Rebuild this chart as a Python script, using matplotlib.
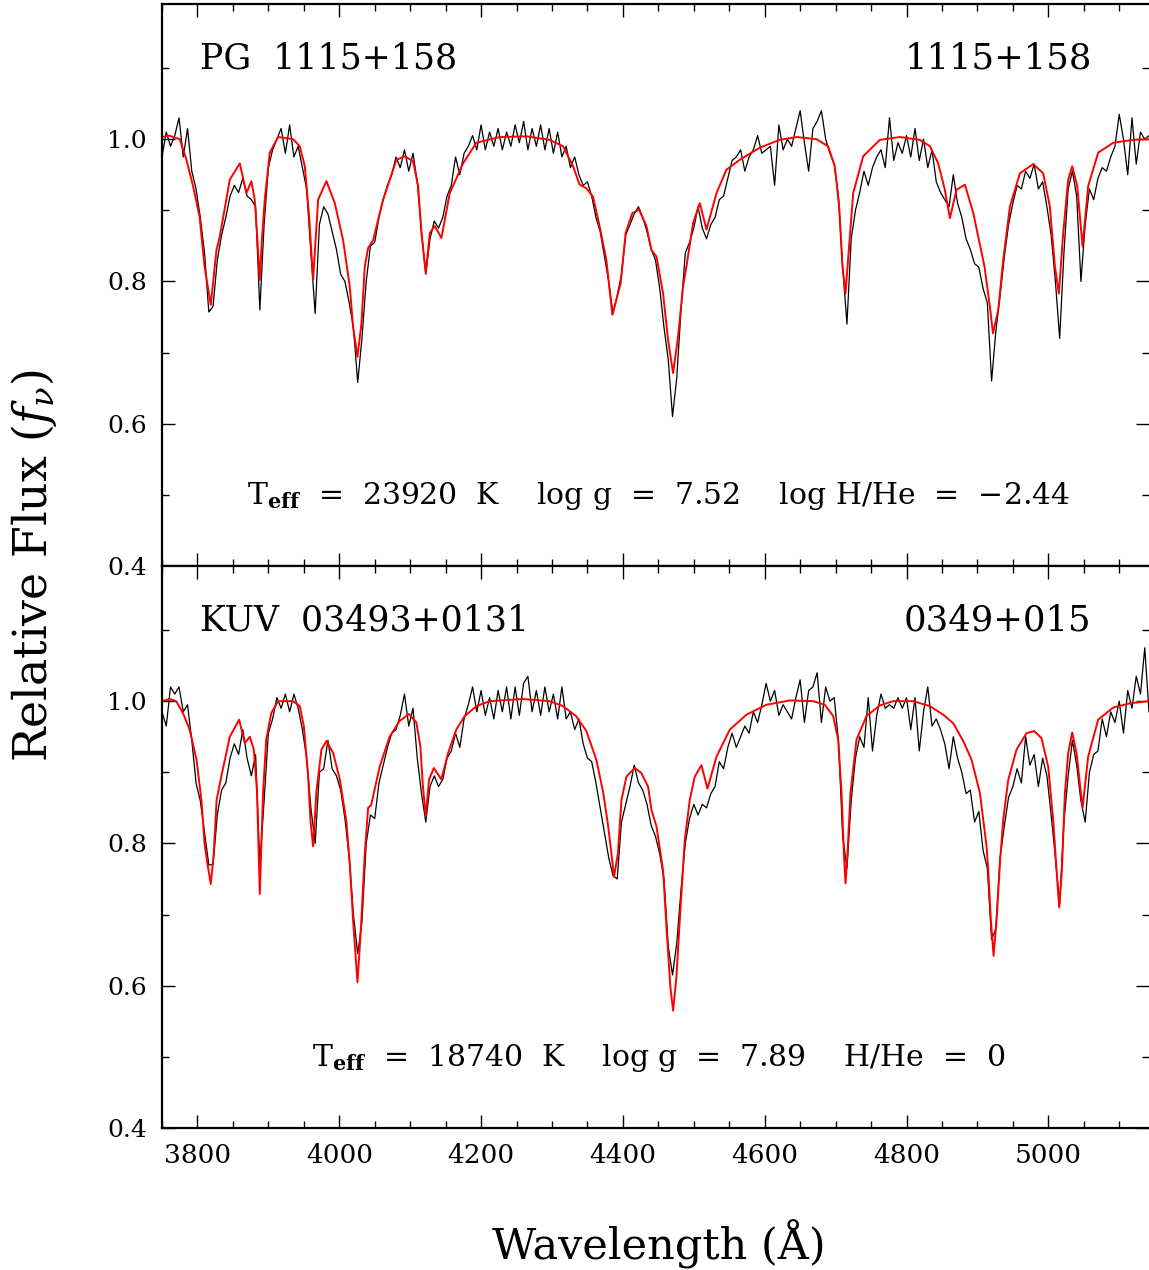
import numpy as np
import matplotlib
matplotlib.use("Agg")
import matplotlib.pyplot as plt
from matplotlib.ticker import MultipleLocator, FormatStrFormatter

plt.rcParams['font.family'] = 'DejaVu Serif'
plt.rcParams['mathtext.fontset'] = 'dejavuserif'

# observed spectra are sampled on a 6 A grid
wave_obs = np.arange(3750, 5143, 6)

flux_obs_top = [
    0.975, 1.01, 0.99, 1.005, 1.03, 0.975, 1.015, 0.955, 0.93, 0.89,
    0.84, 0.757, 0.765, 0.83, 0.865, 0.89, 0.92, 0.935, 0.925, 0.945,
    0.92, 0.915, 0.905, 0.76, 0.88, 0.96, 0.985, 1.00, 1.015, 0.98,
    1.02, 0.975, 0.99, 0.96, 0.93, 0.84, 0.755, 0.88, 0.905, 0.895,
    0.87, 0.845, 0.81, 0.80, 0.77, 0.735, 0.658, 0.72, 0.80, 0.85,
    0.855, 0.89, 0.915, 0.935, 0.95, 0.975, 0.96, 0.985, 0.955, 0.98,
    0.94, 0.87, 0.81, 0.86, 0.885, 0.875, 0.89, 0.92, 0.935, 0.975,
    0.95, 0.98, 0.99, 1.005, 0.985, 1.02, 0.985, 1.01, 0.99, 1.015,
    0.985, 1.01, 0.99, 1.02, 0.995, 1.025, 0.985, 1.015, 0.99, 1.02,
    0.985, 1.015, 0.98, 1.01, 0.975, 0.99, 0.96, 0.975, 0.95, 0.935,
    0.94, 0.92, 0.89, 0.87, 0.835, 0.80, 0.755, 0.78, 0.81, 0.865,
    0.88, 0.895, 0.905, 0.89, 0.87, 0.845, 0.83, 0.79, 0.735, 0.69,
    0.61, 0.665, 0.76, 0.84, 0.855, 0.875, 0.905, 0.875, 0.86, 0.88,
    0.89, 0.915, 0.92, 0.945, 0.97, 0.975, 0.985, 0.955, 0.975, 0.985,
    1.005, 0.98, 0.985, 0.99, 0.935, 1.02, 0.985, 1.00, 0.99, 1.015,
    1.04, 0.995, 0.955, 1.015, 1.025, 1.04, 1.00, 0.98, 0.965, 0.92,
    0.82, 0.74, 0.86, 0.90, 0.925, 0.955, 0.935, 0.96, 0.975, 0.985,
    0.96, 1.03, 0.97, 0.995, 0.98, 1.005, 0.975, 1.015, 0.97, 1.0,
    0.96, 0.985, 0.94, 0.925, 0.915, 0.905, 0.95, 0.91, 0.89, 0.86,
    0.845, 0.825, 0.82, 0.79, 0.77, 0.66, 0.73, 0.78, 0.835, 0.88,
    0.91, 0.935, 0.93, 0.955, 0.945, 0.965, 0.93, 0.94, 0.905, 0.865,
    0.80, 0.72, 0.84, 0.93, 0.955, 0.92, 0.80, 0.88, 0.93, 0.915,
    0.945, 0.96, 0.955, 0.975, 0.99, 1.035, 1.0, 0.95, 1.03, 0.965,
    1.01, 1.0, 1.005,
]

flux_obs_bot = [
    0.985, 0.965, 1.02, 1.01, 1.02, 0.985, 0.995, 0.945, 0.885, 0.86,
    0.815, 0.77, 0.77, 0.84, 0.875, 0.885, 0.92, 0.94, 0.925, 0.96,
    0.92, 0.895, 0.925, 0.77, 0.86, 0.955, 0.975, 1.005, 0.99, 1.01,
    0.985, 1.01, 0.99, 0.96, 0.92, 0.85, 0.80, 0.90, 0.905, 0.945,
    0.905, 0.895, 0.875, 0.835, 0.78, 0.70, 0.645, 0.69, 0.80, 0.84,
    0.835, 0.885, 0.91, 0.935, 0.955, 0.96, 0.98, 1.01, 0.965, 0.99,
    0.92, 0.87, 0.83, 0.88, 0.895, 0.88, 0.89, 0.92, 0.93, 0.955,
    0.935, 0.975, 0.995, 1.02, 0.985, 1.015, 0.98, 1.005, 0.975, 1.015,
    0.985, 1.02, 0.975, 1.02, 0.98, 1.025, 1.035, 0.985, 1.015, 0.98,
    1.02, 0.985, 1.01, 0.975, 1.02, 0.975, 0.985, 0.96, 0.975, 0.94,
    0.92, 0.915, 0.885, 0.85, 0.815, 0.78, 0.755, 0.75, 0.83, 0.855,
    0.88, 0.91, 0.885, 0.875, 0.855, 0.825, 0.81, 0.785, 0.75, 0.655,
    0.615, 0.66, 0.735, 0.80, 0.835, 0.855, 0.84, 0.855, 0.85, 0.87,
    0.88, 0.915, 0.905, 0.935, 0.955, 0.935, 0.95, 0.965, 0.955, 0.985,
    0.97, 0.995, 1.025, 1.0, 1.015, 0.98, 0.995, 0.985, 0.975, 1.005,
    1.03, 0.97, 1.015, 1.02, 1.04, 0.97, 1.02, 1.0, 1.005, 0.945,
    0.81, 0.765, 0.86, 0.92, 0.95, 0.935, 1.005, 0.93, 0.98, 1.01,
    0.99, 0.995, 0.99, 1.005, 0.99, 1.005, 0.96, 1.005, 0.93, 0.985,
    1.02, 0.965, 0.975, 0.96, 0.94, 0.905, 0.95, 0.92, 0.90, 0.87,
    0.875, 0.83, 0.845, 0.79, 0.765, 0.665, 0.68, 0.78, 0.825, 0.865,
    0.88, 0.905, 0.885, 0.95, 0.91, 0.925, 0.88, 0.92, 0.895, 0.84,
    0.78, 0.715, 0.83, 0.895, 0.945, 0.91, 0.86, 0.83, 0.90, 0.925,
    0.93, 0.975, 0.95, 0.985, 0.97, 1.0, 0.955, 1.015, 0.99, 1.035,
    1.01, 1.075, 0.985,
]

# model fits (red), read at irregular wavelengths
wave_mod_top = [
    3750, 3760, 3775, 3784.5, 3793.8, 3803, 3810, 3818.8, 3826.8, 3831.5,
    3845.6, 3859.7, 3869, 3876, 3880.8, 3884.5, 3887.8, 3891, 3894.9, 3902,
    3913.7, 3934.9, 3944.3, 3951.4, 3957.5, 3963.1, 3970.2, 3981.9, 3993.7, 4005.4,
    4014.8, 4019.5, 4025.7, 4031.3, 4036, 4040.7, 4047.7, 4061.8, 4080.6, 4092.4,
    4104.1, 4111.2, 4115.9, 4122, 4127.7, 4134.7, 4144.1, 4155.8, 4174.6, 4193.4,
    4226.3, 4264, 4296.8, 4315.6, 4329.7, 4339, 4348.5, 4357.9, 4367.3, 4376.7,
    4385.2, 4396.8, 4403.9, 4413.3, 4422.7, 4433.2, 4440.3, 4447.4, 4456.7, 4463.7,
    4470.8, 4477.8, 4484.9, 4489.6, 4499, 4508.5, 4517.9, 4532, 4546, 4564.9,
    4593, 4621, 4645, 4673, 4689.4, 4698.9, 4705, 4709.7, 4714, 4718.6,
    4724.8, 4738.9, 4762.4, 4790.6, 4818.8, 4833, 4844.7, 4854, 4861.2, 4870.6,
    4882.4, 4894.2, 4910, 4917.5, 4922, 4929.3, 4936.4, 4945.8, 4959.9, 4978.7,
    4992.8, 5002.2, 5009.3, 5014.9, 5021, 5028, 5033.7, 5040.8, 5048.3, 5056.2,
    5070.3, 5091.5, 5119.7, 5142,
]
flux_mod_top = [
    1.003, 1.005, 1.000, 0.971, 0.934, 0.891, 0.821, 0.767, 0.844, 0.863,
    0.943, 0.966, 0.924, 0.941, 0.915, 0.860, 0.802, 0.860, 0.915, 0.981,
    1.003, 1.000, 0.990, 0.962, 0.891, 0.803, 0.915, 0.941, 0.910, 0.858,
    0.793, 0.736, 0.694, 0.741, 0.821, 0.847, 0.858, 0.915, 0.971, 0.976,
    0.969, 0.934, 0.868, 0.812, 0.868, 0.878, 0.861, 0.924, 0.966, 0.995,
    1.003, 1.004, 0.999, 0.990, 0.962, 0.936, 0.931, 0.919, 0.877, 0.830,
    0.753, 0.797, 0.868, 0.896, 0.901, 0.878, 0.844, 0.835, 0.783, 0.718,
    0.671, 0.722, 0.793, 0.821, 0.882, 0.910, 0.873, 0.924, 0.957, 0.971,
    0.988, 0.999, 1.003, 1.000, 0.990, 0.962, 0.905, 0.821, 0.783, 0.844,
    0.924, 0.976, 0.999, 1.003, 0.999, 0.990, 0.966, 0.929, 0.889, 0.929,
    0.936, 0.896, 0.821, 0.765, 0.727, 0.760, 0.830, 0.905, 0.952, 0.965,
    0.952, 0.905, 0.821, 0.783, 0.868, 0.943, 0.962, 0.934, 0.849, 0.934,
    0.981, 0.995, 0.999, 1.000,
]

wave_mod_bot = [
    3750, 3760.6, 3770, 3779.7, 3789, 3798.6, 3805.6, 3810, 3814, 3818.8,
    3823, 3827, 3834, 3845.6, 3858.8, 3866.8, 3873.8, 3879.5, 3884, 3887.9,
    3892.6, 3897, 3904, 3913.7, 3934.9, 3944.3, 3950, 3956, 3959.5, 3963.1,
    3967.8, 3974.9, 3982, 3991.4, 4000.8, 4010, 4014.8, 4019.5, 4025.7, 4030.4,
    4036, 4040.7, 4045, 4057, 4071, 4085, 4098.3, 4108.7, 4114.3, 4118,
    4122, 4126.7, 4133.3, 4144, 4153.5, 4165, 4176.9, 4193.4, 4212, 4259,
    4296.8, 4315.6, 4334, 4348.5, 4362.5, 4372, 4379, 4383.8, 4387.5, 4393,
    4398, 4405, 4416.8, 4426, 4435.5, 4440.3, 4447.4, 4456.7, 4462.3, 4467,
    4470.8, 4475.5, 4480.2, 4487.3, 4494.3, 4501.4, 4510.8, 4519.3, 4532, 4550.8,
    4574.3, 4602.5, 4635.4, 4668.4, 4684.8, 4696.6, 4703.6, 4708.4, 4711.7, 4714,
    4716.8, 4721, 4729.5, 4743.6, 4762.4, 4781.2, 4809.4, 4833, 4851.8, 4865.9,
    4880, 4891.7, 4903.5, 4912.9, 4915.3, 4919, 4922.8, 4927, 4931.7, 4936.4,
    4943.4, 4955.2, 4969.3, 4980.1, 4990.4, 4999.8, 5006.9, 5011.6, 5015.4, 5019.1,
    5023.4, 5028, 5033.7, 5039.8, 5048.3, 5056.2, 5070.3, 5091.5, 5115, 5142,
]
flux_mod_bot = [
    1.000, 1.003, 1.000, 0.983, 0.960, 0.918, 0.861, 0.800, 0.772, 0.743,
    0.786, 0.861, 0.896, 0.950, 0.974, 0.941, 0.950, 0.932, 0.873, 0.729,
    0.873, 0.946, 0.983, 1.000, 1.000, 0.993, 0.965, 0.896, 0.831, 0.796,
    0.873, 0.932, 0.944, 0.927, 0.890, 0.831, 0.772, 0.692, 0.605, 0.678,
    0.786, 0.850, 0.854, 0.908, 0.950, 0.972, 0.982, 0.970, 0.937, 0.880,
    0.838, 0.890, 0.906, 0.890, 0.927, 0.960, 0.979, 0.993, 1.000, 1.003,
    1.000, 0.993, 0.979, 0.958, 0.918, 0.873, 0.826, 0.786, 0.753, 0.786,
    0.861, 0.894, 0.906, 0.899, 0.880, 0.847, 0.824, 0.762, 0.669, 0.598,
    0.565, 0.612, 0.692, 0.805, 0.861, 0.894, 0.910, 0.877, 0.922, 0.960,
    0.981, 0.995, 1.001, 1.000, 0.995, 0.979, 0.946, 0.871, 0.786, 0.744,
    0.786, 0.871, 0.946, 0.979, 0.994, 1.000, 1.000, 0.993, 0.981, 0.969,
    0.944, 0.918, 0.871, 0.796, 0.762, 0.692, 0.642, 0.692, 0.772, 0.833,
    0.889, 0.932, 0.955, 0.958, 0.948, 0.908, 0.833, 0.762, 0.710, 0.762,
    0.871, 0.927, 0.956, 0.927, 0.850, 0.922, 0.974, 0.991, 0.997, 1.000,
]

names_left = ['PG  1115+158', 'KUV  03493+0131']
names_right = ['1115+158', '0349+015']
params = ['T$_{\\mathbf{eff}}$  =  23920  K    log g  =  7.52    log H/He  =  \u22122.44',
          'T$_{\\mathbf{eff}}$  =  18740  K    log g  =  7.89    H/He  =  0']

W, H = 1149, 1270
fig = plt.figure(figsize=(W / 100, H / 100), dpi=100)
left = 162 / W
width = 1 - left
ax_top = fig.add_axes([left, (H - 566) / H, width, 562 / H])
ax_bot = fig.add_axes([left, (H - 1128) / H, width, 562 / H])

obs = [flux_obs_top, flux_obs_bot]
mods = [(wave_mod_top, flux_mod_top), (wave_mod_bot, flux_mod_bot)]

for k, ax in enumerate([ax_top, ax_bot]):
    ax.plot(wave_obs, obs[k], color='black', lw=0.9)
    ax.plot(mods[k][0], mods[k][1], color='red', lw=1.4)
    ax.set_xlim(3750, 5142)
    ax.set_ylim(0.4, 1.19)
    ax.xaxis.set_major_locator(MultipleLocator(200))
    ax.xaxis.set_minor_locator(MultipleLocator(50))
    ax.yaxis.set_major_locator(MultipleLocator(0.2))
    ax.yaxis.set_minor_locator(MultipleLocator(0.1))
    ax.yaxis.set_major_formatter(FormatStrFormatter('%.1f'))
    ax.tick_params(which='both', direction='in', top=True, right=True, width=1.0)
    ax.tick_params(which='major', length=9.5, labelsize=18, pad=11)
    ax.tick_params(which='minor', length=4.8)
    ax.tick_params(axis='x', labelsize=19)
    for s in ['left', 'top', 'bottom']:
        ax.spines[s].set_linewidth(1.6)
    ax.spines['right'].set_visible(False)

    ax.text(3803, 1.10, names_left[k], fontsize=25, va='baseline', ha='left')
    ax.text(5061, 1.10, names_right[k], fontsize=25.5, va='baseline', ha='right')
    ax.text(4450, 0.487, params[k], fontsize=21.5, va='baseline', ha='center')

ax_top.tick_params(labelbottom=False)

fig.text(34 / W, (H - 566) / H, 'Relative Flux ($f_\\nu$)', rotation=90,
         fontsize=33, ha='center', va='center')
fig.text(659 / W, 12 / H, 'Wavelength (\u00c5)', fontsize=31,
         ha='center', va='baseline')

fig.savefig('out.png', dpi=100)
